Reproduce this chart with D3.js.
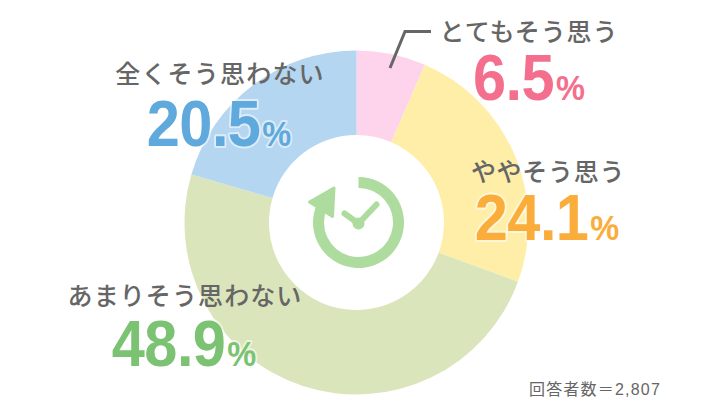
<!DOCTYPE html>
<html><head><meta charset="utf-8">
<script src="https://cdn.jsdelivr.net/npm/d3@7/dist/d3.min.js"></script>
<style>html,body{margin:0;padding:0;background:#fff}svg{display:block}</style>
</head><body><svg id="c" width="720" height="420"></svg>
<script>
const categories = ["とてもそう思う","ややそう思う","あまりそう思わない","全くそう思わない"];
const values = [6.5,24.1,48.9,20.5];
const sliceColors = ["#fed3ec","#ffeea8","#dbe5bb","#b4d6f0"];
const valueColors = ["#f46f8d","#fbad3b","#7bc272","#5fa9dd"];
const footnote = "回答者数＝2,807";

const svg = d3.select("#c");
const cx = 356.5, cy = 222.5;
const pie = d3.pie().sort(null).value(d=>d);
const arc = d3.arc().innerRadius(87.5).outerRadius(172);
svg.append("g").attr("transform",`translate(${cx},${cy})`)
  .selectAll("path").data(pie(values)).join("path")
  .attr("d",arc).attr("fill",(d,i)=>sliceColors[i]);

// leader line
svg.append("path").attr("d",d3.line()([[390,68],[405,31.5],[431,31.5]]))
  .attr("fill","none").attr("stroke","#666").attr("stroke-width",3);

// clock icon
const ic = svg.append("g").attr("transform","translate(358.5,222.5)");
const ring = d3.arc().innerRadius(34.5).outerRadius(45.5);
ic.append("path").attr("d",ring({startAngle:0,endAngle:Math.PI*2*0.815})).attr("fill","#addc9e");
ic.append("path").attr("d",d3.line()([[-49,-20.5],[-24.5,-34.5],[-26,-6]])+"Z").attr("fill","#addc9e")
  .attr("stroke","#addc9e").attr("stroke-width",3).attr("stroke-linejoin","round");
ic.append("path").attr("d",d3.line()([[-14,-9],[0,1],[18,-18]])).attr("fill","none")
  .attr("stroke","#addc9e").attr("stroke-width",6).attr("stroke-linecap","round").attr("stroke-linejoin","round");
ic.append("circle").attr("cy",1).attr("r",6).attr("fill","#addc9e");

// labels
const labelPos = [[529,30],[548,170],[185,294],[220,72]];
const labelSpacing = [0.9,0.7,1.1,1.2];
const valuePos = [[529,100],[547,240],[184,366],[219,146]];
const jp = '"Noto Sans CJK JP","Noto Sans CJK SC",sans-serif';
labelPos.forEach((p,i)=>{
  svg.append("text").attr("x",p[0]).attr("y",p[1]).attr("text-anchor","middle")
    .attr("dominant-baseline","central")
    .attr("font-family",jp).attr("font-size",25).attr("font-weight",500)
    .attr("letter-spacing",labelSpacing[i]).attr("fill","#666").text(categories[i]);
});
valuePos.forEach((p,i)=>{
  const t = svg.append("text").attr("transform",`translate(${p[0]},${p[1]}) scale(0.93,1)`).attr("text-anchor","middle")
    .attr("font-family",'"Liberation Sans",Arial,sans-serif').attr("font-weight",700)
    .attr("fill",valueColors[i]).attr("stroke","#fff").attr("stroke-opacity",0.55)
    .attr("stroke-width",4).attr("stroke-linejoin","round").attr("paint-order","stroke");
  t.append("tspan").attr("font-size",64).attr("letter-spacing",-0.6).text(values[i].toFixed(1));
  t.append("tspan").attr("font-size",35).attr("dx",2).text("%");
});
svg.append("text").attr("x",595).attr("y",389).attr("text-anchor","middle").attr("dominant-baseline","central")
  .attr("font-family",'"Liberation Sans",'+jp).attr("font-size",16).attr("letter-spacing",1.2).attr("fill","#666").text(footnote);
</script></body></html>
